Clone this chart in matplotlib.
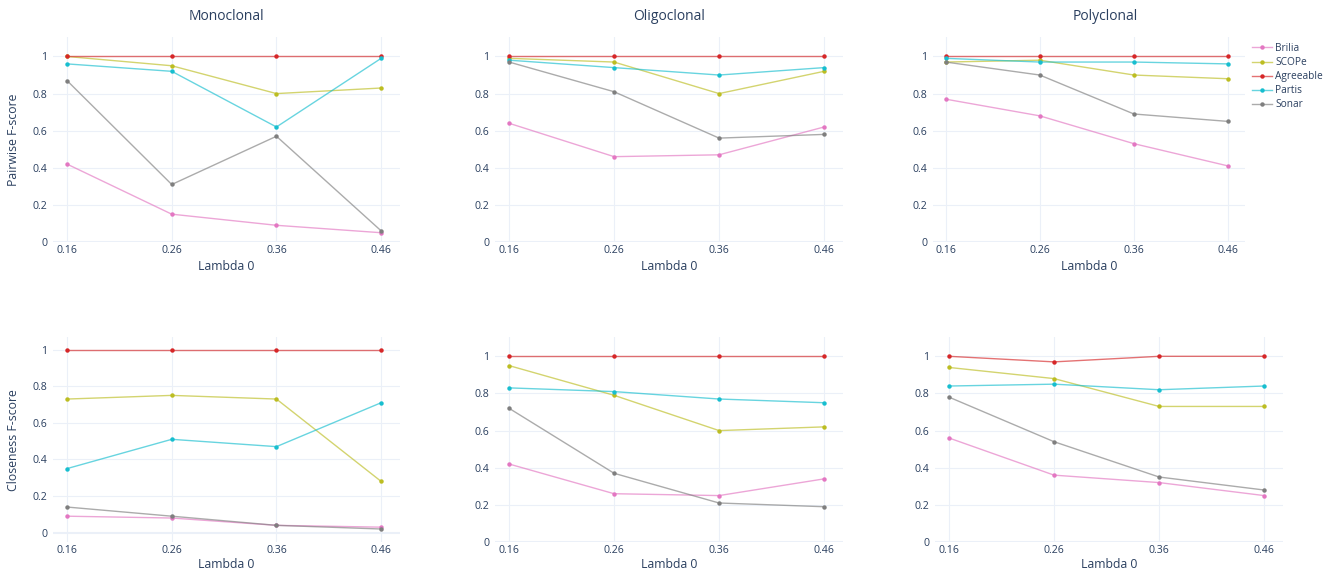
import matplotlib
matplotlib.use("Agg")
import matplotlib.pyplot as plt
from matplotlib.lines import Line2D
from matplotlib.colors import to_rgba

W, H = 1333, 574
lambdas = [0.16, 0.26, 0.36, 0.46]
x_ticklabels = ["0.16", "0.26", "0.36", "0.46"]
y_ticks = [0, 0.2, 0.4, 0.6, 0.8, 1.0]
y_ticklabels = ["0", "0.2", "0.4", "0.6", "0.8", "1"]
methods = ["Brilia", "SCOPe", "Agreeable", "Partis", "Sonar"]
colors = ["#e377c2", "#bcbd22", "#d62728", "#17becf", "#7f7f7f"]
clonalities = ["Monoclonal", "Oligoclonal", "Polyclonal"]

# Pairwise F-score
pair_mono = {
    "Brilia": [0.42, 0.15, 0.09, 0.05],
    "SCOPe": [1.0, 0.95, 0.80, 0.83],
    "Agreeable": [1.0, 1.0, 1.0, 1.0],
    "Partis": [0.96, 0.92, 0.62, 0.99],
    "Sonar": [0.87, 0.31, 0.57, 0.06],
}
pair_oligo = {
    "Brilia": [0.64, 0.46, 0.47, 0.62],
    "SCOPe": [0.99, 0.97, 0.80, 0.92],
    "Agreeable": [1.0, 1.0, 1.0, 1.0],
    "Partis": [0.98, 0.94, 0.90, 0.94],
    "Sonar": [0.97, 0.81, 0.56, 0.58],
}
pair_poly = {
    "Brilia": [0.77, 0.68, 0.53, 0.41],
    "SCOPe": [0.97, 0.98, 0.90, 0.88],
    "Agreeable": [1.0, 1.0, 1.0, 1.0],
    "Partis": [0.99, 0.97, 0.97, 0.96],
    "Sonar": [0.97, 0.90, 0.69, 0.65],
}
# Closeness F-score
close_mono = {
    "Brilia": [0.09, 0.08, 0.04, 0.03],
    "SCOPe": [0.73, 0.75, 0.73, 0.28],
    "Agreeable": [1.0, 1.0, 1.0, 1.0],
    "Partis": [0.35, 0.51, 0.47, 0.71],
    "Sonar": [0.14, 0.09, 0.04, 0.02],
}
close_oligo = {
    "Brilia": [0.42, 0.26, 0.25, 0.34],
    "SCOPe": [0.95, 0.79, 0.60, 0.62],
    "Agreeable": [1.0, 1.0, 1.0, 1.0],
    "Partis": [0.83, 0.81, 0.77, 0.75],
    "Sonar": [0.72, 0.37, 0.21, 0.19],
}
close_poly = {
    "Brilia": [0.56, 0.36, 0.32, 0.25],
    "SCOPe": [0.94, 0.88, 0.73, 0.73],
    "Agreeable": [1.0, 0.97, 1.0, 1.0],
    "Partis": [0.84, 0.85, 0.82, 0.84],
    "Sonar": [0.78, 0.54, 0.35, 0.28],
}

FONT = ["Open Sans", "DejaVu Sans"]
TXT = "#2a3f5f"
GRID = "#EBF0F8"
plt.rcParams["font.family"] = FONT

fig = plt.figure(figsize=(W / 100, H / 100), dpi=100)
fig.patch.set_facecolor("white")

def px_rect(x0, y0, x1, y1):
    return [x0 / W, 1 - y1 / H, (x1 - x0) / W, (y1 - y0) / H]

# panel pixel boxes (left, top, right, bottom)
boxes = [
    [(53, 37, 400, 242), (495, 37, 843, 242), (933, 37, 1245, 242)],
    [(53, 337, 400, 542), (495, 337, 843, 542), (935, 337, 1283, 542)],
]
datasets = [[pair_mono, pair_oligo, pair_poly], [close_mono, close_oligo, close_poly]]
ylims = [[(0, 1.105), (0, 1.105), (0, 1.105)],
         [(-0.051, 1.069), (0, 1.104), (0, 1.104)]]
xlim = (0.1466, 0.478)

for r in range(2):
    for c in range(3):
        b = boxes[r][c]
        ax = fig.add_axes(px_rect(*b))
        ax.set_facecolor("white")
        for s in ax.spines.values():
            s.set_visible(False)
        ax.set_xlim(*xlim)
        ax.set_ylim(*ylims[r][c])
        ax.set_xticks(lambdas)
        ax.set_xticklabels(x_ticklabels)
        ax.set_yticks(y_ticks)
        ax.set_yticklabels(y_ticklabels)
        ax.tick_params(length=0, labelsize=7.6, labelcolor=TXT, pad=2)
        ax.tick_params(axis="y", pad=4)
        for xv in lambdas:
            ax.axvline(xv, color=GRID, lw=0.8, zorder=0)
        for yv in y_ticks:
            ax.axhline(yv, color=GRID, lw=1.5 if yv == 0 else 0.8, zorder=0)
        data = datasets[r][c]
        for m, col in zip(methods, colors):
            ax.plot(lambdas, data[m], color=to_rgba(col, 0.65), lw=1.0,
                    marker="o", markersize=3.2, mfc=col, mec=col, mew=0, zorder=3)
        cx = (b[0] + b[2]) / 2
        fig.text(cx / W, 1 - (266 if r == 0 else 565) / H, "Lambda 0",
                 ha="center", va="center", fontsize=8.8, color=TXT)

title_x = [226, 669, 1105]
for t, x in zip(clonalities, title_x):
    fig.text(x / W, 1 - 17 / H, t, ha="center", va="center", fontsize=10, color=TXT)

fig.text(14 / W, 1 - 140 / H, "Pairwise F-score", rotation=90, ha="center",
         va="center", fontsize=8.8, color=TXT)
fig.text(14 / W, 1 - 440 / H, "Closeness F-score", rotation=90, ha="center",
         va="center", fontsize=8.8, color=TXT)

handles = [Line2D([0], [0], color=to_rgba(col, 0.65), lw=1.0, marker="o",
                  markersize=3.2, mfc=col, mec=col, mew=0) for col in colors]
fig.legend(handles, methods, loc="upper left", bbox_to_anchor=(1250 / W, 1 - 41 / H),
           frameon=False, fontsize=7.3, labelcolor=TXT, handlelength=2.0,
           handletextpad=0.3, labelspacing=0.3, borderaxespad=0, borderpad=0.2)

fig.savefig("out.png", dpi=100, facecolor="white")
